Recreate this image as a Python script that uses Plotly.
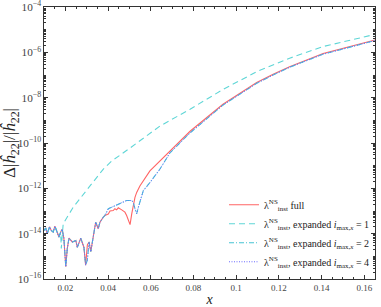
import plotly.graph_objects as go

# ---- data ----
x_full = [0.0100, 0.0108, 0.0115, 0.0126, 0.0134, 0.0143, 0.0151, 0.0159, 0.0170, 0.0178,
          0.0185, 0.0193, 0.0202, 0.0209, 0.0217, 0.0233, 0.0249, 0.0256, 0.0264, 0.0272,
          0.0287, 0.0295, 0.0303, 0.0311, 0.0319, 0.0326, 0.0334, 0.0342, 0.0354, 0.0362,
          0.0378, 0.0385, 0.0401, 0.0409, 0.0424, 0.0432, 0.0440, 0.0448, 0.0464, 0.0479,
          0.0487, 0.0495, 0.0503, 0.0511, 0.0518, 0.0526, 0.0534, 0.0549, 0.0596, 0.0643,
          0.0690, 0.0784, 0.0938, 0.1096, 0.1173, 0.1250, 0.1407, 0.1650]
y_full = [1.38e-14, 1.78e-14, 1.0e-14, 2.0e-14, 1.38e-14, 1.17e-14, 2.14e-14, 1.38e-14, 7.1e-15, 1.17e-14,
          1.58e-14, 6.3e-15, 3.5e-16, 2.2e-15, 6.3e-15, 4.3e-15, 5.0e-15, 2.5e-15, 4.3e-15, 6.3e-15,
          2.5e-15, 4.1e-16, 3.2e-15, 4.3e-15, 1.6e-15, 4.3e-15, 1.0e-14, 3.2e-14, 1.66e-14, 3.2e-14,
          5.4e-14, 6.3e-14, 7.4e-14, 1.0e-13, 1.05e-13, 1.26e-13, 1.12e-13, 1.38e-13, 1.12e-13, 8.9e-14,
          6.3e-14, 3.8e-14, 2.5e-14, 7.6e-14, 2.0e-13, 4.0e-13, 6.6e-13, 1.26e-12, 5.9e-12, 1.6e-11,
          4.5e-11, 3.3e-10, 5.1e-09, 4.7e-08, 1.07e-07, 2.3e-07, 8.9e-07, 3.5e-06]

x_imax1 = [0.0100, 0.0108, 0.0115, 0.0126, 0.0134, 0.0143, 0.0151, 0.0159, 0.0170, 0.0178,
           0.0181, 0.0186, 0.0190, 0.0237, 0.0284, 0.0331, 0.0378, 0.0417, 0.0470, 0.0503,
           0.0643, 0.0784, 0.0938, 0.1096, 0.1250, 0.1407, 0.1650]
y_imax1 = [1.38e-14, 1.78e-14, 1.0e-14, 2.0e-14, 1.38e-14, 1.17e-14, 2.14e-14, 1.38e-14, 7.1e-15, 1.17e-14,
           2.2e-15, 1.0e-14, 2.75e-14, 1.48e-13, 5.6e-13, 2.1e-12, 7.1e-12, 1.6e-11, 3.5e-11, 6.0e-11,
           5.6e-10, 3.1e-09, 2.3e-08, 1.4e-07, 5.5e-07, 1.8e-06, 6.2e-06]

x_imax2 = [0.0100, 0.0108, 0.0115, 0.0126, 0.0134, 0.0143, 0.0151, 0.0159, 0.0170, 0.0178,
           0.0185, 0.0193, 0.0202, 0.0209, 0.0217, 0.0233, 0.0249, 0.0256, 0.0264, 0.0272,
           0.0287, 0.0295, 0.0303, 0.0311, 0.0319, 0.0326, 0.0334, 0.0342, 0.0354, 0.0362,
           0.0378, 0.0385, 0.0401, 0.0432, 0.0464, 0.0487, 0.0511, 0.0518, 0.0526, 0.0534,
           0.0542, 0.0557, 0.0565, 0.0596, 0.0643, 0.0690, 0.0784, 0.0938, 0.1096, 0.1173,
           0.1250, 0.1407, 0.1650]
y_imax2 = [1.38e-14, 1.78e-14, 1.0e-14, 2.0e-14, 1.38e-14, 1.17e-14, 2.14e-14, 1.38e-14, 7.1e-15, 1.17e-14,
           1.58e-14, 6.3e-15, 3.5e-16, 2.2e-15, 6.3e-15, 4.3e-15, 5.0e-15, 2.5e-15, 4.3e-15, 6.3e-15,
           2.5e-15, 4.1e-16, 6.8e-16, 4.3e-15, 1.6e-15, 4.3e-15, 1.0e-14, 3.2e-14, 1.66e-14, 3.2e-14,
           5.4e-14, 6.3e-14, 1.26e-13, 1.74e-13, 2.4e-13, 2.9e-13, 2.9e-13, 2.4e-13, 1.26e-13, 7.6e-14,
           1.48e-13, 4.8e-13, 7.9e-13, 1.8e-12, 7.1e-12, 3.7e-11, 2.8e-10, 4.7e-09, 4.3e-08, 1.0e-07,
           2.2e-07, 8.3e-07, 3.3e-06]

x_imax4 = x_imax2
y_imax4 = y_imax2

names = [
    "λ<sup>NS</sup><sub>inst</sub> full",
    "λ<sup>NS</sup><sub>inst</sub>, expanded <i>i</i><sub>max,<i>x</i></sub> = 1",
    "λ<sup>NS</sup><sub>inst</sub>, expanded <i>i</i><sub>max,<i>x</i></sub> = 2",
    "λ<sup>NS</sup><sub>inst</sub>, expanded <i>i</i><sub>max,<i>x</i></sub> = 4",
]

FONT = "Liberation Serif"

fig = go.Figure()
fig.add_trace(go.Scatter(x=x_full, y=y_full, mode="lines", name=names[0],
                         line=dict(color="#ff6464", width=1.1)))
fig.add_trace(go.Scatter(x=x_imax1, y=y_imax1, mode="lines", name=names[1],
                         line=dict(color="#5fd6d6", width=1.1, dash="6px,4px")))
fig.add_trace(go.Scatter(x=x_imax2, y=y_imax2, mode="lines", name=names[2],
                         line=dict(color="#45c4d4", width=1.1, dash="5px,2px,1px,2px")))
fig.add_trace(go.Scatter(x=x_imax4, y=y_imax4, mode="lines", name=names[3],
                         line=dict(color="#6a6aff", width=1.0, dash="1px,1.5px")))

axis_common = dict(
    showline=True, linecolor="#333", linewidth=1, mirror="allticks",
    ticks="inside", tickcolor="#333", showgrid=False, zeroline=False,
    automargin=False, ticklabeloverflow="allow",
    tickfont=dict(family=FONT, size=9, color="#444"),
)

fig.update_xaxes(
    range=[0.01, 0.165], tick0=0, dtick=0.02, ticklen=4,
    minor=dict(dtick=0.005, ticklen=2, ticks="inside", tickcolor="#333"),
    title=dict(text="<i>x</i>", font=dict(family=FONT, size=14, color="#222"), standoff=2),
    **axis_common,
)
fig.update_yaxes(
    type="log", range=[-16, -4], dtick=2, ticklen=4, exponentformat="power",
    minor=dict(dtick="D1", ticklen=2, ticks="inside", tickcolor="#333"),
    title=dict(text="Δ|<i>ĥ</i><sub>22</sub>|/|<i>ĥ</i><sub>22</sub>|",
               font=dict(family=FONT, size=17, color="#222"), standoff=2),
    **axis_common,
)

fig.update_layout(
    width=381, height=307,
    margin=dict(l=44, r=6, t=7, b=28),
    paper_bgcolor="white", plot_bgcolor="white",
    font=dict(family=FONT, color="#222"),
    legend=dict(x=1.0, xanchor="right", y=0.01, yanchor="bottom",
                bgcolor="rgba(255,255,255,0)", font=dict(family=FONT, size=10, color="#222"),
                tracegroupgap=0, itemwidth=30),
    showlegend=True,
)

fig.write_html("out.html", config={"displayModeBar": False},
               post_script="document.body.style.margin='0';")
